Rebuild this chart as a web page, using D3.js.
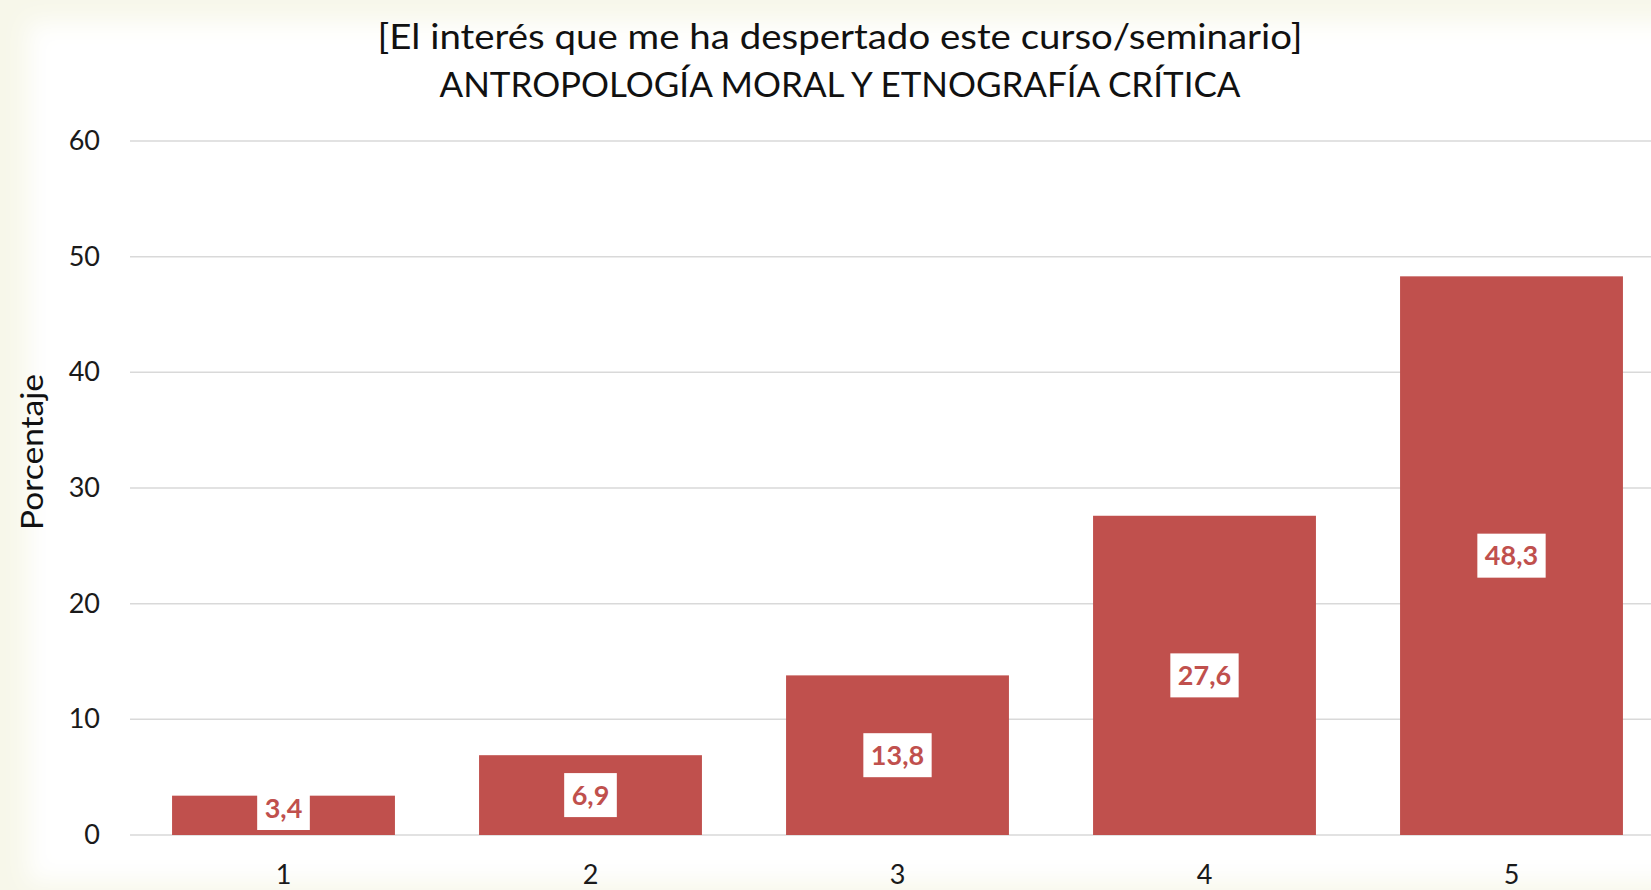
<!DOCTYPE html>
<html lang="es">
<head>
    <meta charset="UTF-8">
    <title>Interés despertado</title>
    <script src="https://d3js.org/d3.v7.min.js"></script>
    <style>
        body { margin: 0; background: #f7f7ec; }
        svg { display: block; font-family: Lato, "Open Sans", sans-serif; }
    </style>
</head>
<body>
    <svg id="chart"></svg>

    <script>
        // Chart data
        const categories = ["1", "2", "3", "4", "5"];
        const values = [3.4, 6.9, 13.8, 27.6, 48.3];
        const yTicks = [0, 10, 20, 30, 40, 50, 60];
        const titleLines = [
            "[El interés que me ha despertado este curso/seminario]",
            "ANTROPOLOGÍA MORAL Y ETNOGRAFÍA CRÍTICA"
        ];
        const yTitle = "Porcentaje";

        const width = 1651;
        const height = 890;
        const barColor = "#c0504d";

        const svg = d3.select("#chart")
            .attr("width", width)
            .attr("height", height);

        // slide background: cream edges, white page
        const defs = svg.append("defs");
        defs.append("filter").attr("id", "soft")
            .append("feGaussianBlur").attr("stdDeviation", 12);
        svg.append("rect")
            .attr("width", width).attr("height", height)
            .attr("fill", "#f7f7ea");
        svg.append("rect")
            .attr("x", 28).attr("y", 22)
            .attr("width", width + 40).attr("height", height - 30)
            .attr("fill", "#ffffff")
            .attr("filter", "url(#soft)");

        // scales
        const x = d3.scaleBand()
            .domain(categories)
            .range([130, 1665])
            .paddingInner(0.274)
            .paddingOuter(0.137);

        const y = d3.scaleLinear()
            .domain([0, 60])
            .range([835, 141]);

        // gridlines
        svg.append("g")
            .selectAll("line")
            .data(yTicks)
            .enter().append("line")
            .attr("x1", 130)
            .attr("x2", width)
            .attr("y1", d => y(d))
            .attr("y2", d => y(d))
            .attr("stroke", "#d9d9d9")
            .attr("stroke-width", 1.5);

        // y axis labels
        const yAxis = svg.append("g")
            .attr("transform", "translate(100,0)")
            .call(d3.axisLeft(y).tickValues(yTicks).tickSize(0).tickPadding(0));
        yAxis.select(".domain").remove();
        yAxis.selectAll("text")
            .attr("font-size", 27)
            .attr("font-family", "Lato, sans-serif")
            .attr("fill", "#1a1a1a");

        // x axis labels
        const xAxis = svg.append("g")
            .attr("transform", "translate(0," + y(0) + ")")
            .call(d3.axisBottom(x).tickSize(0).tickPadding(30));
        xAxis.select(".domain").remove();
        xAxis.selectAll("text")
            .attr("font-size", 27)
            .attr("font-family", "Lato, sans-serif")
            .attr("fill", "#1a1a1a");

        // bars
        svg.append("g")
            .selectAll("rect")
            .data(values)
            .enter().append("rect")
            .attr("x", (d, i) => x(categories[i]))
            .attr("y", d => y(d))
            .attr("width", x.bandwidth())
            .attr("height", d => y(0) - y(d))
            .attr("fill", barColor);

        // data labels in white boxes
        const labels = svg.append("g")
            .selectAll("g")
            .data(values)
            .enter().append("g")
            .attr("transform", (d, i) => {
                const cx = x(categories[i]) + x.bandwidth() / 2;
                const cy = Math.min((y(d) + y(0)) / 2, y(0) - 27);
                return "translate(" + cx + "," + cy + ")";
            });

        labels.append("rect").attr("fill", "#ffffff");
        labels.append("text")
            .attr("text-anchor", "middle")
            .attr("dy", "0.36em")
            .attr("font-size", 27)
            .attr("font-weight", "bold")
            .attr("fill", barColor)
            .text(d => String(d).replace(".", ","));

        labels.each(function() {
            const g = d3.select(this);
            const w = g.select("text").node().getComputedTextLength() + 15;
            g.select("rect")
                .attr("x", -w / 2).attr("y", -22)
                .attr("width", w).attr("height", 44);
        });

        // title
        svg.append("g")
            .selectAll("text")
            .data(titleLines)
            .enter().append("text")
            .attr("x", 840)
            .attr("y", (d, i) => 49 + i * 48)
            .attr("text-anchor", "middle")
            .attr("font-size", 34)
            .attr("fill", "#111")
            .attr("textLength", (d, i) => i === 0 ? 925 : 801)
            .attr("lengthAdjust", "spacingAndGlyphs")
            .text(d => d);

        // y axis title
        svg.append("text")
            .attr("transform", "translate(31,452) rotate(-90)")
            .attr("text-anchor", "middle")
            .attr("dominant-baseline", "central")
            .attr("font-size", 30)
            .attr("fill", "#111")
            .attr("textLength", 156)
            .attr("lengthAdjust", "spacingAndGlyphs")
            .text(yTitle);
    </script>
</body>
</html>
